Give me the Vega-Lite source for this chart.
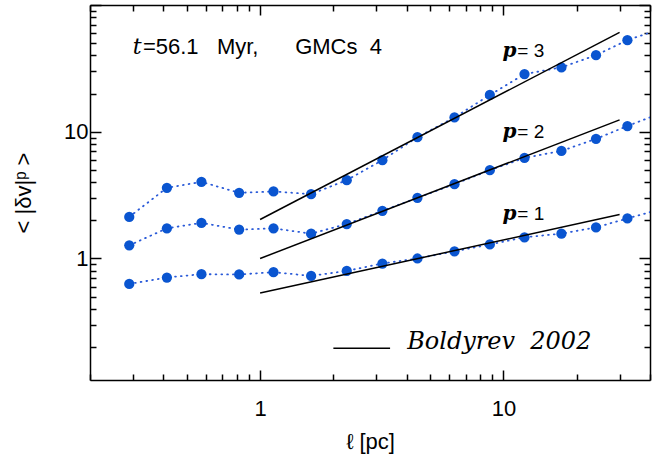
{
  "$schema": "https://vega.github.io/schema/vega-lite/v6.json",
  "width": 560,
  "height": 375,
  "autosize": {"type": "none"},
  "padding": {"left": 90, "top": 5, "right": 20, "bottom": 75},
  "background": "white",
  "config": {
    "view": {"stroke": null},
    "axis": {
      "domainColor": "black", "domainWidth": 1.5,
      "tickColor": "black", "tickWidth": 1.5,
      "labelColor": "black", "labelFont": "Liberation Sans", "labelFontSize": 22,
      "titleColor": "black", "titleFont": "Liberation Sans", "titleFontSize": 22, "titleFontWeight": "normal",
      "grid": false, "labelFlush": false, "labelOverlap": false
    }
  },
  "datasets": {
    "obs": [
      {"p": 3, "l": 0.29, "v": 2.13}, {"p": 3, "l": 0.414, "v": 3.61}, {"p": 3, "l": 0.574, "v": 4.02}, {"p": 3, "l": 0.82, "v": 3.30},
      {"p": 3, "l": 1.135, "v": 3.38}, {"p": 3, "l": 1.62, "v": 3.22}, {"p": 3, "l": 2.27, "v": 4.15}, {"p": 3, "l": 3.18, "v": 5.97},
      {"p": 3, "l": 4.43, "v": 9.06}, {"p": 3, "l": 6.29, "v": 12.97}, {"p": 3, "l": 8.79, "v": 19.5}, {"p": 3, "l": 12.2, "v": 28.5},
      {"p": 3, "l": 17.3, "v": 32.2}, {"p": 3, "l": 24.0, "v": 40.2}, {"p": 3, "l": 32.3, "v": 52.8}, {"p": 3, "l": 45.6, "v": 66},
      {"p": 2, "l": 0.29, "v": 1.27}, {"p": 2, "l": 0.414, "v": 1.73}, {"p": 2, "l": 0.574, "v": 1.91}, {"p": 2, "l": 0.82, "v": 1.69},
      {"p": 2, "l": 1.135, "v": 1.73}, {"p": 2, "l": 1.62, "v": 1.57}, {"p": 2, "l": 2.27, "v": 1.87}, {"p": 2, "l": 3.18, "v": 2.38},
      {"p": 2, "l": 4.43, "v": 3.01}, {"p": 2, "l": 6.29, "v": 3.86}, {"p": 2, "l": 8.79, "v": 4.97}, {"p": 2, "l": 12.2, "v": 6.22},
      {"p": 2, "l": 17.3, "v": 7.06}, {"p": 2, "l": 24.0, "v": 8.79}, {"p": 2, "l": 32.3, "v": 11.1}, {"p": 2, "l": 45.6, "v": 14.3},
      {"p": 1, "l": 0.29, "v": 0.63}, {"p": 1, "l": 0.414, "v": 0.708}, {"p": 1, "l": 0.574, "v": 0.752}, {"p": 1, "l": 0.82, "v": 0.748},
      {"p": 1, "l": 1.135, "v": 0.78}, {"p": 1, "l": 1.62, "v": 0.729}, {"p": 1, "l": 2.27, "v": 0.798}, {"p": 1, "l": 3.18, "v": 0.913},
      {"p": 1, "l": 4.43, "v": 1.0}, {"p": 1, "l": 6.29, "v": 1.14}, {"p": 1, "l": 8.79, "v": 1.29}, {"p": 1, "l": 12.2, "v": 1.47},
      {"p": 1, "l": 17.3, "v": 1.57}, {"p": 1, "l": 24.0, "v": 1.76}, {"p": 1, "l": 32.3, "v": 2.07}, {"p": 1, "l": 45.6, "v": 2.49}
    ],
    "fit": [
      {"p": 3, "l": 1, "v": 2.03}, {"p": 3, "l": 30, "v": 60.8},
      {"p": 2, "l": 1, "v": 1.0}, {"p": 2, "l": 30, "v": 12.4},
      {"p": 1, "l": 1, "v": 0.535}, {"p": 1, "l": 30, "v": 2.22}
    ],
    "legendline": [
      {"l": 2.0, "v": 0.196}, {"l": 3.42, "v": 0.196}
    ],
    "serif": [
      {"l": 0.30, "v": 40.7, "text": "t"}
    ],
    "sans": [
      {"l": 0.33, "v": 40.7, "text": "=56.1\u00a0\u00a0\u00a0Myr,\u00a0\u00a0\u00a0\u00a0\u00a0\u00a0GMCs\u00a0\u00a04"}
    ],
    "plab": [
      {"l": 9.9, "v": 39.2, "text": "p"},
      {"l": 9.9, "v": 8.85, "text": "p"},
      {"l": 9.9, "v": 2.03, "text": "p"}
    ],
    "peq": [
      {"l": 11.4, "v": 39.2, "text": "=\u00a03"},
      {"l": 11.4, "v": 8.85, "text": "=\u00a02"},
      {"l": 11.4, "v": 2.03, "text": "=\u00a01"}
    ],
    "legendtext": [
      {"l": 4.02, "v": 0.193, "text": "Boldyrev\u00a0\u00a02002"}
    ]
  },
  "resolve": {"axis": {"x": "independent", "y": "independent"}},
  "layer": [
    {
      "data": {"name": "obs"},
      "mark": {"type": "line", "clip": true, "color": "#2a5ad8", "strokeDash": [0.8, 5], "strokeWidth": 1.8, "strokeCap": "round"},
      "encoding": {
        "x": {"field": "l", "type": "quantitative",
          "scale": {"type": "log", "domain": [0.2, 40], "nice": false, "zero": false},
          "axis": {"orient": "bottom",
            "values": [0.2,0.3,0.4,0.5,0.6,0.7,0.8,0.9,1,2,3,4,5,6,7,8,9,10,20,30,40],
            "tickSize": {"condition": {"test": "datum.value == 1 || datum.value == 10", "value": -10}, "value": -6},
            "labelExpr": "datum.value == 1 || datum.value == 10 ? datum.label : ''",
            "labelPadding": 28,
            "title": "ℓ [pc]", "titlePadding": 8}},
        "y": {"field": "v", "type": "quantitative",
          "scale": {"type": "log", "domain": [0.11, 100], "nice": false, "zero": false},
          "axis": {"orient": "left",
            "values": [0.2,0.3,0.4,0.5,0.6,0.7,0.8,0.9,1,2,3,4,5,6,7,8,9,10,20,30,40,50,60,70,80,90,100],
            "tickSize": {"condition": {"test": "datum.value == 1 || datum.value == 10 || datum.value == 100", "value": -11}, "value": -6},
            "labelExpr": "datum.value == 1 || datum.value == 10 ? datum.label : ''",
            "labelPadding": 13,
            "title": "<\u00a0|δv|ᵖ\u00a0>", "titlePadding": 28}},
        "detail": {"field": "p"}
      }
    },
    {
      "data": {"name": "obs"},
      "mark": {"type": "circle", "clip": true, "color": "#0a55d0", "opacity": 1, "size": 105},
      "encoding": {
        "x": {"field": "l", "type": "quantitative",
          "scale": {"type": "log", "domain": [0.2, 40], "nice": false, "zero": false},
          "axis": {"orient": "top",
            "values": [0.2,0.3,0.4,0.5,0.6,0.7,0.8,0.9,1,2,3,4,5,6,7,8,9,10,20,30,40],
            "tickSize": {"condition": {"test": "datum.value == 1 || datum.value == 10", "value": -10}, "value": -6},
            "labels": false, "title": null}},
        "y": {"field": "v", "type": "quantitative",
          "scale": {"type": "log", "domain": [0.11, 100], "nice": false, "zero": false},
          "axis": {"orient": "right",
            "values": [0.2,0.3,0.4,0.5,0.6,0.7,0.8,0.9,1,2,3,4,5,6,7,8,9,10,20,30,40,50,60,70,80,90,100],
            "tickSize": {"condition": {"test": "datum.value == 1 || datum.value == 10 || datum.value == 100", "value": -11}, "value": -6},
            "labels": false, "title": null}}
      }
    },
    {
      "data": {"name": "fit"},
      "mark": {"type": "line", "color": "black", "strokeWidth": 1.5},
      "encoding": {
        "x": {"field": "l", "type": "quantitative", "scale": {"type": "log", "domain": [0.2, 40], "nice": false}, "axis": null},
        "y": {"field": "v", "type": "quantitative", "scale": {"type": "log", "domain": [0.11, 100], "nice": false}, "axis": null},
        "detail": {"field": "p"}
      }
    },
    {
      "data": {"name": "legendline"},
      "mark": {"type": "line", "color": "black", "strokeWidth": 1.5},
      "encoding": {
        "x": {"field": "l", "type": "quantitative", "axis": null},
        "y": {"field": "v", "type": "quantitative", "axis": null}
      }
    },
    {
      "data": {"name": "serif"},
      "mark": {"type": "text", "align": "left", "baseline": "alphabetic", "font": "DejaVu Serif", "fontStyle": "italic", "fontSize": 22, "color": "black"},
      "encoding": {
        "x": {"field": "l", "type": "quantitative", "axis": null},
        "y": {"field": "v", "type": "quantitative", "axis": null},
        "text": {"field": "text"}
      }
    },
    {
      "data": {"name": "sans"},
      "mark": {"type": "text", "align": "left", "baseline": "alphabetic", "font": "Liberation Sans", "fontSize": 22, "color": "black"},
      "encoding": {
        "x": {"field": "l", "type": "quantitative", "axis": null},
        "y": {"field": "v", "type": "quantitative", "axis": null},
        "text": {"field": "text"}
      }
    },
    {
      "data": {"name": "plab"},
      "mark": {"type": "text", "align": "left", "baseline": "alphabetic", "font": "DejaVu Serif", "fontStyle": "italic", "fontWeight": "bold", "fontSize": 20, "color": "black"},
      "encoding": {
        "x": {"field": "l", "type": "quantitative", "axis": null},
        "y": {"field": "v", "type": "quantitative", "axis": null},
        "text": {"field": "text"}
      }
    },
    {
      "data": {"name": "peq"},
      "mark": {"type": "text", "align": "left", "baseline": "alphabetic", "font": "Liberation Sans", "fontSize": 19, "color": "black"},
      "encoding": {
        "x": {"field": "l", "type": "quantitative", "axis": null},
        "y": {"field": "v", "type": "quantitative", "axis": null},
        "text": {"field": "text"}
      }
    },
    {
      "data": {"name": "legendtext"},
      "mark": {"type": "text", "align": "left", "baseline": "alphabetic", "font": "DejaVu Serif", "fontStyle": "italic", "fontSize": 24, "color": "black"},
      "encoding": {
        "x": {"field": "l", "type": "quantitative", "axis": null},
        "y": {"field": "v", "type": "quantitative", "axis": null},
        "text": {"field": "text"}
      }
    }
  ]
}
